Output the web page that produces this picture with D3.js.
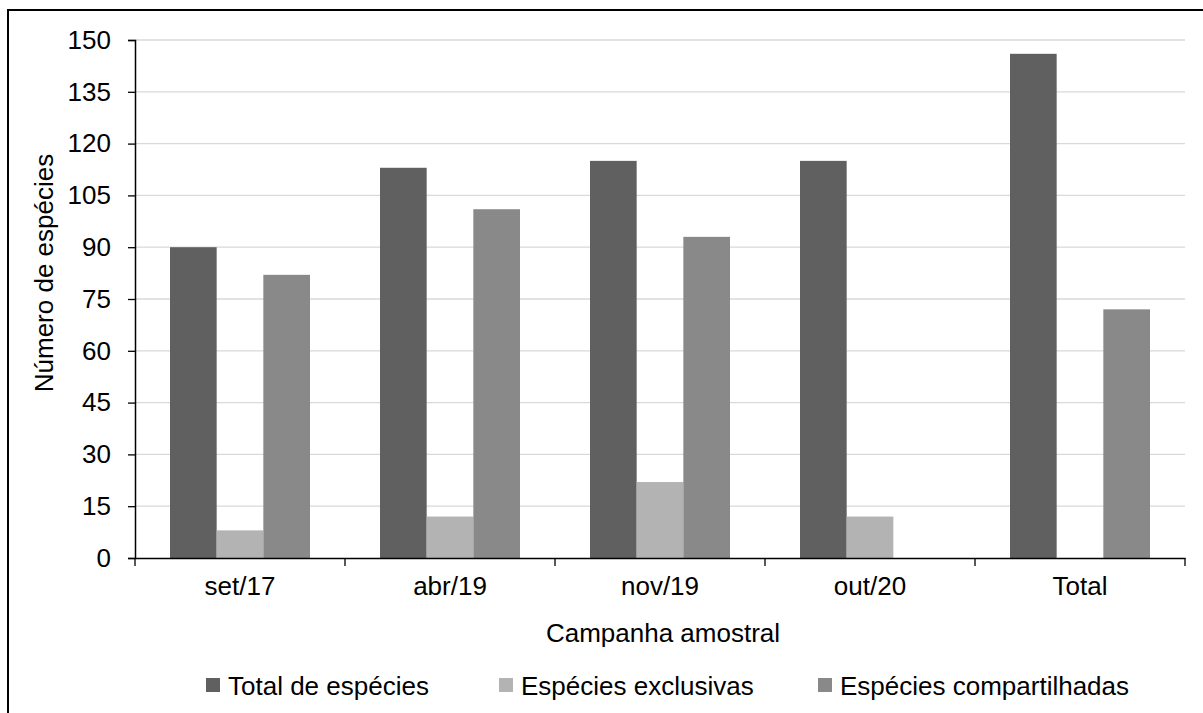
<!DOCTYPE html>
<html>
<head>
<meta charset="utf-8">
<script src="https://cdn.jsdelivr.net/npm/d3@7"></script>
<style>
  body { margin: 0; background: #fff; }
  svg { display: block; font-family: "Liberation Sans", Arial, sans-serif; }
</style>
</head>
<body>
<svg id="chart" width="1203" height="713"></svg>
<script>
// data
const categories = ["set/17", "abr/19", "nov/19", "out/20", "Total"]
const seriesNames = ["Total de espécies", "Espécies exclusivas", "Espécies compartilhadas"]
const totalEspecies = [90, 113, 115, 115, 146]
const especiesExclusivas = [8, 12, 22, 12, null]
const especiesCompartilhadas = [82, 101, 93, null, 72]
const yTicks = [0, 15, 30, 45, 60, 75, 90, 105, 120, 135, 150]
const colors = ["#606060", "#b3b3b3", "#898989"]

const seriesValues = [totalEspecies, especiesExclusivas, especiesCompartilhadas]
const fontSize = "26px"
const fontFamily = "Liberation Sans, Arial, sans-serif"

const svg = d3.select("#chart")
const margin = { left: 135, right: 18, top: 40, bottom: 155 }
const width = 1203 - margin.left - margin.right
const height = 713 - margin.top - margin.bottom

// outer frame
svg.append("rect")
  .attr("x", 8).attr("y", 10)
  .attr("width", 1220).attr("height", 720)
  .attr("fill", "none").attr("stroke", "#000").attr("stroke-width", 2)

const g = svg.append("g").attr("transform", `translate(${margin.left},${margin.top})`)

const x = d3.scaleBand().domain(categories).range([0, width]).padding(0)
// bar gap = 150% of bar width
const bw = x.bandwidth() / (3 + 1.5)
const xs = d3.scaleBand().domain(seriesNames)
  .range([bw * 0.75, x.bandwidth() - bw * 0.75]).padding(0)
const y = d3.scaleLinear().domain([0, 150]).range([height, 0])

// gridlines
g.selectAll("line.grid")
  .data(yTicks.filter(d => d > 0))
  .enter().append("line")
  .attr("class", "grid")
  .attr("x1", 0).attr("x2", width)
  .attr("y1", d => y(d)).attr("y2", d => y(d))
  .attr("stroke", "#d9d9d9").attr("stroke-width", 1.3)

// bars
seriesNames.forEach((name, si) => {
  g.selectAll("rect.s" + si)
    .data(categories.map((c, i) => ({ c: c, v: seriesValues[si][i] })).filter(d => d.v != null))
    .enter().append("rect")
    .attr("class", "s" + si)
    .attr("x", d => x(d.c) + xs(name))
    .attr("width", xs.bandwidth())
    .attr("y", d => y(d.v))
    .attr("height", d => y(0) - y(d.v))
    .attr("fill", colors[si])
})

// y axis
const yAxis = g.append("g")
  .call(d3.axisLeft(y).tickValues(yTicks).tickSize(7).tickPadding(17))
yAxis.select(".domain").attr("stroke", "#000").attr("stroke-width", 1.5)
yAxis.selectAll(".tick line").attr("stroke", "#000").attr("stroke-width", 1.3)
yAxis.selectAll(".tick text").attr("font-size", fontSize).attr("fill", "#000")
  .attr("font-family", fontFamily)

// x axis
const xAxis = g.append("g").attr("transform", `translate(0,${height})`)
  .call(d3.axisBottom(x).tickSize(0).tickPadding(19))
xAxis.select(".domain").attr("stroke", "#000").attr("stroke-width", 1.5)
xAxis.selectAll(".tick text").attr("font-size", fontSize).attr("fill", "#000")
  .attr("font-family", fontFamily)
// boundary ticks between categories
const bounds = categories.map(c => x(c)).concat([width])
xAxis.selectAll("line.bound")
  .data(bounds)
  .enter().append("line")
  .attr("class", "bound")
  .attr("x1", d => d).attr("x2", d => d)
  .attr("y1", 0).attr("y2", 8)
  .attr("stroke", "#000").attr("stroke-width", 1.3)

// axis titles
g.append("text")
  .attr("x", width / 2 + 3).attr("y", height + 84)
  .attr("text-anchor", "middle").attr("font-size", fontSize).attr("fill", "#000")
  .text("Campanha amostral")

svg.append("text")
  .attr("transform", "translate(53,273) rotate(-90)")
  .attr("text-anchor", "middle").attr("font-size", fontSize).attr("fill", "#000")
  .text("Número de espécies")

// legend
const legendX = [206, 499, 818]
const legend = svg.append("g")
seriesNames.forEach((name, si) => {
  legend.append("rect")
    .attr("x", legendX[si]).attr("y", 678)
    .attr("width", 14).attr("height", 14)
    .attr("fill", colors[si])
  legend.append("text")
    .attr("x", legendX[si] + 22).attr("y", 695)
    .attr("font-size", fontSize).attr("fill", "#000")
    .text(name)
})
</script>
</body>
</html>
